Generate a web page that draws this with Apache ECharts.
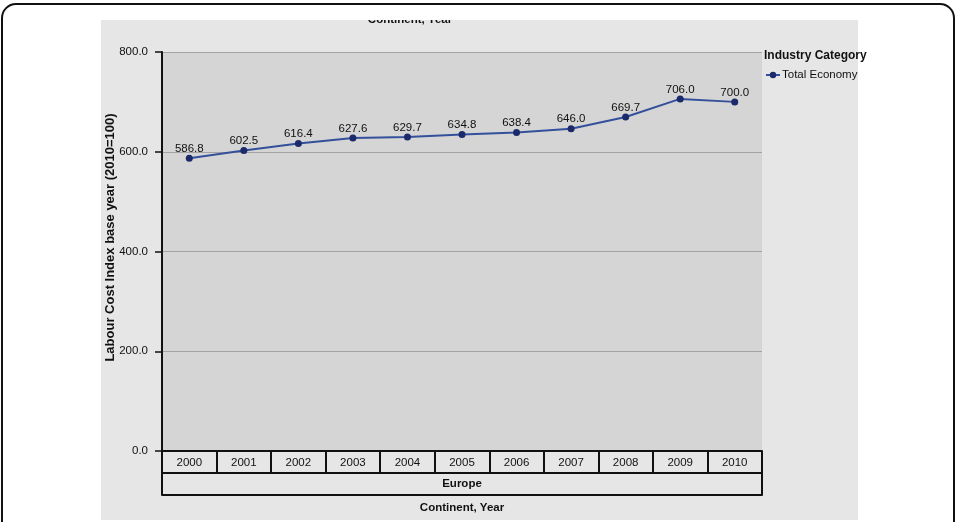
<!DOCTYPE html>
<html>
<head>
<meta charset="utf-8">
<script src="https://cdn.jsdelivr.net/npm/echarts@6/dist/echarts.min.js"></script>
<style>
  html, body { margin: 0; padding: 0; background: #ffffff; }
  #chart { width: 958px; height: 522px; }
</style>
</head>
<body>
<div id="chart"></div>
<script>
// Labour cost index, Europe, total economy
const years = ['2000', '2001', '2002', '2003', '2004', '2005', '2006', '2007', '2008', '2009', '2010'];
const totalEconomy = [586.8, 602.5, 616.4, 627.6, 629.7, 634.8, 638.4, 646.0, 669.7, 706.0, 700.0];
const continents = ['Europe'];
const yMin = 0;
const yMax = 800;
const yStep = 200;

const narrow = "'Liberation Sans Narrow', 'Arial Narrow', 'Liberation Sans', Arial, sans-serif";
const regular = "'Liberation Sans', Arial, sans-serif";

const chart = echarts.init(document.getElementById('chart'), null, { renderer: 'canvas' });

chart.setOption({
  animation: false,
  backgroundColor: '#ffffff',
  title: {
    text: 'Industry Category',
    left: 764,
    top: 50,
    padding: 0,
    textStyle: { fontFamily: narrow, fontSize: 12, fontWeight: 'bold', color: '#111' }
  },
  legend: {
    data: ['Total Economy'],
    left: 765,
    top: 69,
    padding: 0,
    itemWidth: 14,
    itemHeight: 8,
    itemGap: 2,
    textStyle: { fontFamily: narrow, fontSize: 11.5, color: '#111', padding: [0, 0, 0, -3] }
  },
  grid: {
    left: 162,
    right: 196,
    top: 52,
    bottom: 71,
    show: true,
    backgroundColor: '#d5d5d5',
    borderWidth: 0
  },
  xAxis: [
    {
      type: 'category',
      data: years,
      position: 'bottom',
      boundaryGap: true,
      axisLine: { show: true, lineStyle: { color: '#111', width: 2 } },
      axisTick: { show: true, length: 22, interval: 0, lineStyle: { color: '#111', width: 2 } },
      axisLabel: { interval: 0, margin: 6, fontFamily: narrow, fontSize: 11.5, color: '#111' },
      splitLine: { show: false }
    },
    {
      type: 'category',
      data: continents,
      position: 'bottom',
      offset: 22,
      boundaryGap: true,
      axisLine: { show: true, lineStyle: { color: '#111', width: 2 } },
      axisTick: { show: true, length: 22, interval: 0, lineStyle: { color: '#111', width: 2 } },
      axisLabel: { interval: 0, margin: 5, fontFamily: narrow, fontSize: 11.5, fontWeight: 'bold', color: '#111' },
      splitLine: { show: false }
    },
    {
      type: 'category',
      data: [''],
      position: 'bottom',
      offset: 44,
      axisLine: { show: true, lineStyle: { color: '#111', width: 2 } },
      axisTick: { show: false },
      axisLabel: { show: false },
      splitLine: { show: false },
      name: 'Continent, Year',
      nameLocation: 'middle',
      nameGap: 7,
      nameMoveOverlap: false,
      nameTextStyle: { fontFamily: narrow, fontSize: 11.5, fontWeight: 'bold', color: '#111', verticalAlign: 'top' }
    }
  ],
  yAxis: {
    type: 'value',
    min: yMin,
    max: yMax,
    interval: yStep,
    axisLine: { show: true, lineStyle: { color: '#111', width: 2 } },
    axisTick: { show: true, length: 7, lineStyle: { color: '#111', width: 1.5 } },
    axisLabel: {
      margin: 14,
      fontFamily: narrow,
      fontSize: 11.5,
      color: '#111',
      formatter: v => v.toFixed(1)
    },
    splitLine: { show: true, lineStyle: { color: '#a3a3a3', width: 1 } },
    name: 'Labour Cost Index base year (2010=100)',
    nameLocation: 'middle',
    nameGap: 45,
    nameMoveOverlap: false,
    nameTextStyle: {
      fontFamily: regular,
      fontSize: 13,
      fontWeight: 'bold',
      color: '#111',
      padding: [0, 0, 0, 28]
    }
  },
  series: [
    {
      name: 'Total Economy',
      type: 'line',
      xAxisIndex: 0,
      data: totalEconomy,
      symbol: 'circle',
      symbolSize: 7,
      lineStyle: { color: '#34509c', width: 2 },
      itemStyle: { color: '#1b2a6b' },
      label: {
        show: true,
        position: 'top',
        distance: 0,
        fontFamily: narrow,
        fontSize: 11.5,
        color: '#111',
        formatter: p => p.value.toFixed(1)
      },
      z: 5
    }
  ],
  graphic: [
    {
      type: 'rect',
      z: -100,
      shape: { x: 101, y: 20, width: 757, height: 500 },
      style: { fill: '#e6e6e6' }
    },
    {
      type: 'text',
      z: 50,
      style: {
        x: 410, y: 14,
        text: 'Continent, Year',
        align: 'center',
        verticalAlign: 'top',
        fontFamily: narrow,
        fontSize: 11.5,
        fontWeight: 'bold',
        fill: '#111'
      }
    },
    {
      type: 'rect',
      z: 60,
      shape: { x: 360, y: 6, width: 100, height: 14 },
      style: { fill: '#ffffff' }
    },
    {
      type: 'rect',
      z: 100,
      shape: { x: 2, y: 4, width: 952, height: 580, r: 14 },
      style: { fill: 'none', stroke: '#111', lineWidth: 2 }
    }
  ]
});
</script>
</body>
</html>
